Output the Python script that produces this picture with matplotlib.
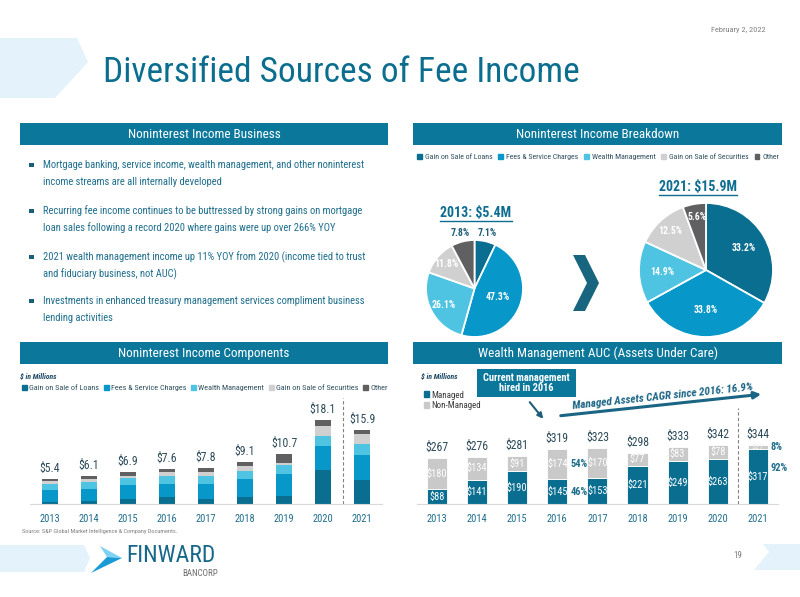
import numpy as np
import matplotlib
matplotlib.use('Agg')
import matplotlib.pyplot as plt
from matplotlib import font_manager
from matplotlib.patches import Rectangle, Polygon, Patch

# ---- data -------------------------------------------------------------
years = ['2013', '2014', '2015', '2016', '2017', '2018', '2019', '2020', '2021']
sources = ['Gain on Sale of Loans', 'Fees & Service Charges', 'Wealth Management',
           'Gain on Sale of Securities', 'Other']

# noninterest income components, $ millions
loans = [0.38, 0.6, 1.1, 1.6, 1.1, 1.6, 1.8, 7.4, 5.28]
fees = [2.55, 2.6, 2.9, 2.7, 3.2, 3.7, 4.7, 5.1, 5.37]
wealth = [1.41, 1.6, 1.5, 1.8, 1.8, 1.8, 1.8, 2.2, 2.37]
securities = [0.64, 0.5, 0.6, 0.8, 0.9, 1.1, 0.6, 2.2, 1.99]
other = [0.42, 0.8, 0.8, 0.7, 0.8, 0.9, 1.8, 1.2, 0.89]
income_totals = ['$5.4', '$6.1', '$6.9', '$7.6', '$7.8', '$9.1', '$10.7', '$18.1', '$15.9']

# breakdown, percent
pie_2013 = [7.1, 47.3, 26.1, 11.8, 7.8]
pie_2021 = [33.2, 33.8, 14.9, 12.5, 5.6]

# wealth management AUC, $ millions
auc_managed = [88, 141, 190, 145, 153, 221, 249, 263, 317]
auc_non_managed = [180, 134, 91, 174, 170, 77, 83, 78, 27]
auc_totals = [267, 276, 281, 319, 323, 298, 333, 342, 344]
auc_share = {3: ('54%', '46%'), 8: ('8%', '92%')}

bullets = [
    ('Mortgage banking, service income, wealth management, and other noninterest',
     'income streams are all internally developed'),
    ('Recurring fee income continues to be buttressed by strong gains on mortgage',
     'loan sales following a record 2020 where gains were up over 266% YOY'),
    ('2021 wealth management income up 11% YOY from 2020 (income tied to trust',
     'and fiduciary business, not AUC)'),
    ('Investments in enhanced treasury management services compliment business',
     'lending activities'),
]

# ---- style ------------------------------------------------------------
names = {f.name for f in font_manager.fontManager.ttflist}
NARROW = 'DejaVu Sans'
for cand in ['Liberation Sans Narrow', 'Roboto Condensed', 'Open Sans Condensed',
             'DejaVu Sans Condensed']:
    if cand in names:
        NARROW = cand
        break
plt.rcParams['font.family'] = [NARROW, 'DejaVu Sans']

src_colors = ['#0a6e90', '#0797c8', '#4fc4e2', '#d0d0d0', '#606062']
TEAL = '#0b789b'
TXT = '#1f6e8c'
DARK = '#2d4b5a'
PALE = '#e4f3fb'

W, H = 800, 597
fig = plt.figure(figsize=(8, 5.97), dpi=100)


def px_axes(x0, y0, x1, y1):
    return fig.add_axes([x0 / W, 1 - y1 / H, (x1 - x0) / W, (y1 - y0) / H])


ov = px_axes(0, 0, W, H)
ov.set_xlim(0, W)
ov.set_ylim(H, 0)
ov.axis('off')

# header
ov.add_patch(Polygon([(0, 38), (77, 38), (88, 62), (55, 98), (0, 98)], color=PALE, lw=0))
ov.text(103, 72, 'Diversified Sources of Fee Income', fontsize=25.5, color='#0b6e8f',
        va='center', ha='left')
ov.text(766, 30, 'February 2, 2022', fontsize=6, color='#808080', ha='right', va='center')

# section bars
for x0, y0, x1, y1, txt in [(20, 123, 388, 145, 'Noninterest Income Business'),
                            (413, 123, 782, 145, 'Noninterest Income Breakdown'),
                            (20, 342, 388, 364, 'Noninterest Income Components'),
                            (413, 342, 782, 364, 'Wealth Management AUC (Assets Under Care)')]:
    ov.add_patch(Rectangle((x0, y0), x1 - x0, y1 - y0, color=TEAL, lw=0))
    ov.text((x0 + x1) / 2, (y0 + y1) / 2 + 0.5, txt, color='white', fontsize=9.5,
            ha='center', va='center')

# bullets
for (l1, l2), y in zip(bullets, [165, 211, 257, 301]):
    ov.add_patch(Rectangle((29, y - 2.5), 4.5, 4.5, color='#1a5f7a', lw=0))
    ov.text(43, y, l1, fontsize=7.6, color=TXT, va='center')
    ov.text(43, y + 17, l2, fontsize=7.6, color=TXT, va='center')

# ---- pies ---------------------------------------------------------------
handles = [Patch(color=c) for c in src_colors]
fig.legend(handles, sources, loc='center', bbox_to_anchor=(598 / W, 1 - 157 / H), ncol=5,
           frameon=False, fontsize=5.7, handlelength=0.6, handleheight=0.6,
           handletextpad=0.35, columnspacing=0.75, labelcolor='#2f4f5f', borderpad=0)


def draw_pie(cx, cy, r, vals, dists, label_colors):
    ax = px_axes(cx - r, cy - r, cx + r, cy + r)
    wedges, texts = ax.pie(vals, colors=src_colors, startangle=90, counterclock=False,
                           labels=[f'{v}%' for v in vals],
                           wedgeprops=dict(edgecolor='white', linewidth=1.3))
    for w, t, d, c in zip(wedges, texts, dists, label_colors):
        ang = np.deg2rad((w.theta1 + w.theta2) / 2)
        t.set_position((d * np.cos(ang), d * np.sin(ang)))
        t.set_ha('center')
        t.set_va('center')
        t.set_color(c)
        t.set_fontsize(7)
        t.set_fontweight('bold')
    ax.set_xlim(-1, 1)
    ax.set_ylim(-1, 1)
    return ax


draw_pie(474.5, 288.5, 48.5, pie_2013, [1.18, 0.5, 0.72, 0.78, 1.18],
         ['#1f5f7a', 'white', 'white', 'white', '#1f5f7a'])
draw_pie(706, 270, 67, pie_2021, [0.66, 0.6, 0.66, 0.79, 0.8], ['white'] * 5)

# chevron between pies
ov.add_patch(Polygon([(573, 255), (585, 255), (599, 283), (585, 311), (573, 311), (587, 283)],
                     color='#17657f', lw=0))

titles = [ov.text(476, 213, '2013: $5.4M', fontsize=10, fontweight='bold', color='#0e6e91',
                  ha='center', va='center'),
          ov.text(698, 187, '2021: $15.9M', fontsize=10, fontweight='bold', color='#0e6e91',
                  ha='center', va='center')]
rend = fig.canvas.get_renderer()
for t in titles:
    bb = t.get_window_extent(rend).transformed(ov.transData.inverted())
    ov.plot([bb.x0, bb.x1], [max(bb.y0, bb.y1) + 0.5] * 2, color='#0e6e91', lw=1)

# ---- noninterest income components ---------------------------------------
axL = px_axes(30, 390, 382, 504)
x = np.arange(len(years))
bottom = np.zeros(len(years))
for vals, c in zip([loans, fees, wealth, securities, other], src_colors):
    axL.bar(x, vals, 0.42, bottom=bottom, color=c, lw=0)
    bottom += np.array(vals)
for i, lab in enumerate(income_totals):
    axL.annotate(lab, (x[i], bottom[i]), xytext=(0, 3), textcoords='offset points',
                 ha='center', va='bottom', fontsize=8.5, color=DARK)
axL.axvline(7.5, ymin=0, ymax=(504 - 398) / 114, color='#808080', lw=0.8, ls=(0, (3, 2)))
axL.set_xlim(-20 / 39, 332 / 39)
axL.set_ylim(0, 114 / 4.64)
axL.set_xticks(x, years)
axL.set_yticks([])
axL.tick_params(axis='x', length=0, pad=7, labelsize=7.5, labelcolor=TXT)
for s in ['top', 'left', 'right']:
    axL.spines[s].set_visible(False)
axL.spines['bottom'].set_color('#d9d9d9')
axL.patch.set_alpha(0)

ov.text(20, 376, '$ in Millions', fontsize=5.5, fontweight='bold', fontstyle='italic',
        color='#1b4863', va='center')
fig.legend(handles, sources, loc='center', bbox_to_anchor=(205 / W, 1 - 388 / H), ncol=5,
           frameon=False, fontsize=5.9, handlelength=0.6, handleheight=0.6,
           handletextpad=0.3, columnspacing=0.55, labelcolor='#2f4f5f', borderpad=0)
ov.text(22, 532, 'Source: S&P Global Market Intelligence & Company Documents.', fontsize=4.5,
        color='#808080', va='center')

# ---- wealth management AUC -----------------------------------------------
axR = px_axes(417, 390, 778, 504)
axR.bar(x, auc_managed, 0.5, color=src_colors[0], edgecolor='white', lw=0.6)
axR.bar(x, auc_non_managed, 0.5, bottom=auc_managed, color='#c9c9c9', edgecolor='white', lw=0.6)
for i in range(len(years)):
    m, n = auc_managed[i], auc_non_managed[i]
    axR.text(x[i], m / 2, f'${m}', color='white', ha='center', va='center', fontsize=7.5)
    axR.text(x[i], m + n / 2, f'${n}', color='white' if n > 40 else '#f2f2f2',
             ha='center', va='center', fontsize=7.5 if n > 40 else 6)
    axR.annotate(f'${auc_totals[i]}', (x[i], m + n), xytext=(0, 3), textcoords='offset points',
                 ha='center', va='bottom', fontsize=8.5, color=DARK)
for i, (top_lab, bot_lab) in auc_share.items():
    m, n = auc_managed[i], auc_non_managed[i]
    axR.text(x[i] + 0.32, m + n / 2, top_lab, color=TXT, fontsize=7.5, fontweight='bold',
             va='center')
    axR.text(x[i] + 0.32, m / 2 if n > 40 else m * 0.66, bot_lab, color=TXT, fontsize=7.5,
             fontweight='bold', va='center')
axR.axvline(7.5, ymin=0, ymax=(504 - 408) / 114, color='#808080', lw=0.8, ls=(0, (3, 2)))
axR.set_xlim((417 - 437) / 40.1, (778 - 437) / 40.1)
axR.set_ylim(0, 114 / 0.172)
axR.set_xticks(x, years)
axR.set_yticks([])
axR.tick_params(axis='x', length=0, pad=7, labelsize=7.5, labelcolor=TXT)
for s in ['top', 'left', 'right']:
    axR.spines[s].set_visible(False)
axR.spines['bottom'].set_color('#d9d9d9')
axR.patch.set_alpha(0)

ov.text(421, 376, '$ in Millions', fontsize=5.5, fontweight='bold', fontstyle='italic',
        color='#1b4863', va='center')
fig.legend([Patch(color=src_colors[0]), Patch(color='#c9c9c9')], ['Managed', 'Non-Managed'],
           loc='upper left', bbox_to_anchor=(419 / W, 1 - 386 / H), frameon=False,
           fontsize=6.5, handlelength=0.6, handleheight=0.6, handletextpad=0.3,
           labelspacing=0.15, labelcolor='#3a3a3a', borderpad=0)

ov.add_patch(Rectangle((477, 369), 99, 28, color=TEAL, lw=0))
ov.text(526.5, 383, 'Current management\nhired in 2016', color='white', fontsize=7.5,
        fontweight='bold', ha='center', va='center', linespacing=1.1)
ov.annotate('', xy=(545, 421), xytext=(528, 400),
            arrowprops=dict(arrowstyle='-|>', color='#1d5f7a', lw=1.5, mutation_scale=8))
ov.annotate('', xy=(764, 394), xytext=(558, 416),
            arrowprops=dict(arrowstyle='-|>', color='#1b6584', lw=2.2, mutation_scale=10))
ov.text(663, 397, 'Managed Assets CAGR since 2016: 16.9%', rotation=6, rotation_mode='anchor',
        ha='center', va='center', fontsize=8, fontweight='bold', fontstyle='italic',
        color='#1b6584')

# ---- footer ------------------------------------------------------------------
ov.add_patch(Polygon([(0, 545), (84, 545), (90, 558), (84, 572), (0, 572)], color=PALE, lw=0))
ov.add_patch(Polygon([(100, 546), (122, 558), (107, 557)], color='#7fd3f2', lw=0))
ov.add_patch(Polygon([(107, 557), (122, 558), (91, 573)], color='#1a9bd6', lw=0))
ov.text(126, 555, 'FINWARD', fontsize=17, color='#17678a', va='center', ha='left')
ov.text(218, 573, 'BANCORP', fontsize=6.5, color='#6d6e70', va='center', ha='right')
ov.text(738, 556, '19', fontsize=6.5, color='#808080', va='center', ha='center')
ov.add_patch(Polygon([(763, 544), (800, 544), (800, 570), (754, 570), (769, 552)],
                     color=PALE, lw=0))

fig.savefig('out.png', dpi=100)
